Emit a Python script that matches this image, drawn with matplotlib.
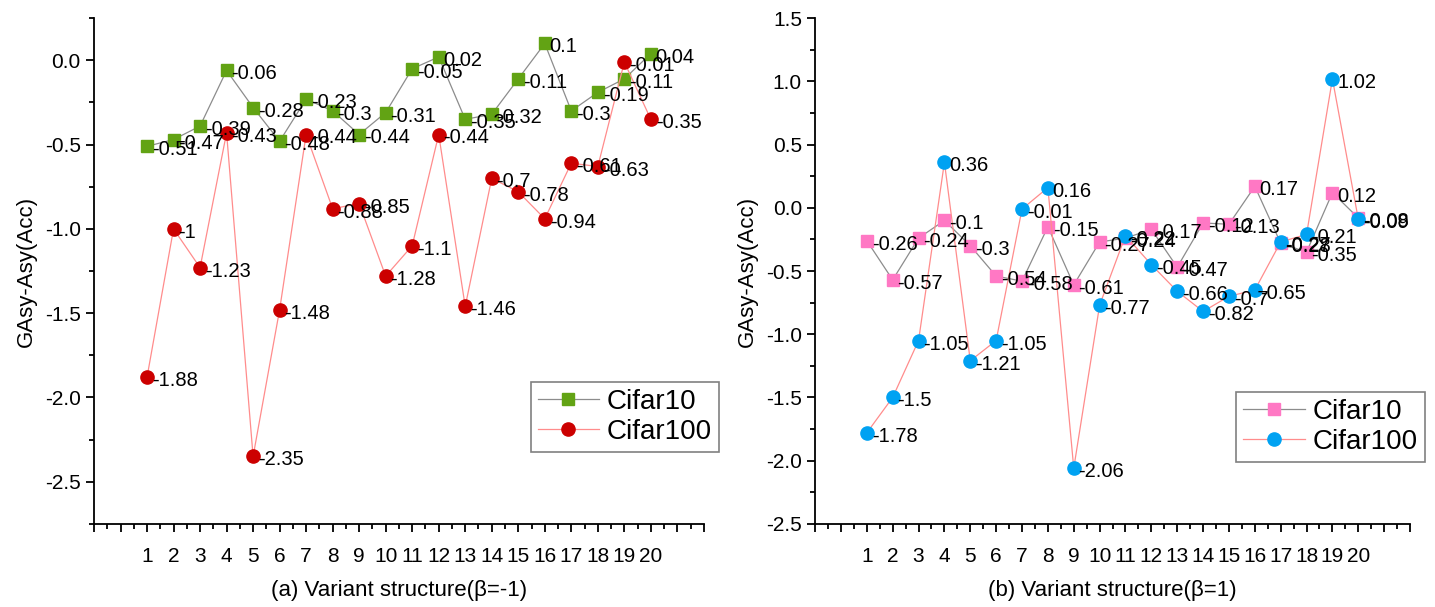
import numpy as np
import matplotlib
matplotlib.use("Agg")
import matplotlib.pyplot as plt
from matplotlib.ticker import MultipleLocator, FixedLocator, FormatStrFormatter

plt.rcParams['font.family'] = ['Liberation Sans', 'DejaVu Sans']

variants = list(range(1, 21))

# (a) beta = -1
a_cifar10 = [-0.51, -0.47, -0.39, -0.06, -0.28, -0.48, -0.23, -0.3, -0.44, -0.31,
             -0.05, 0.02, -0.35, -0.32, -0.11, 0.1, -0.3, -0.19, -0.11, 0.04]
a_cifar100 = [-1.88, -1, -1.23, -0.43, -2.35, -1.48, -0.44, -0.88, -0.85, -1.28,
              -1.1, -0.44, -1.46, -0.7, -0.78, -0.94, -0.61, -0.63, -0.01, -0.35]

# (b) beta = 1
b_cifar10 = [-0.26, -0.57, -0.24, -0.1, -0.3, -0.54, -0.58, -0.15, -0.61, -0.27,
             -0.24, -0.17, -0.47, -0.12, -0.13, 0.17, -0.28, -0.35, 0.12, -0.08]
b_cifar100 = [-1.78, -1.5, -1.05, 0.36, -1.21, -1.05, -0.01, 0.16, -2.06, -0.77,
              -0.22, -0.45, -0.66, -0.82, -0.7, -0.65, -0.27, -0.21, 1.02, -0.09]


def fmt(v):
    return f"{v:.2f}".rstrip('0').rstrip('.')


def draw_panel(ax, c10, c100, c10_color, c100_color, ylim, xlabel, leg_y):
    ax.plot(variants, c10, color='#8c8c8c', lw=0.9, marker='s', ms=8,
            mfc=c10_color, mec=c10_color, label='Cifar10', zorder=3)
    ax.plot(variants, c100, color='#ff8c8c', lw=0.9, marker='o', ms=9.5,
            mfc=c100_color, mec=c100_color, label='Cifar100', zorder=4)
    for series in (c10, c100):
        for x, y in zip(variants, series):
            ax.annotate(fmt(y), (x, y), xytext=(3.5, -2.5), textcoords='offset points',
                        ha='left', va='center', fontsize=14.5, zorder=5)

    ax.set_xlim(-1, 22)
    ax.set_ylim(*ylim)
    ax.xaxis.set_major_locator(FixedLocator(np.arange(-1, 23)))
    ax.set_xticklabels(['' if (t < 1 or t > 20) else str(t) for t in range(-1, 23)])
    ax.xaxis.set_minor_locator(MultipleLocator(0.5))
    ax.yaxis.set_major_locator(MultipleLocator(0.5))
    ax.yaxis.set_minor_locator(MultipleLocator(0.25))
    ax.yaxis.set_major_formatter(FormatStrFormatter('%.1f'))

    ax.spines['top'].set_visible(False)
    ax.spines['right'].set_visible(False)
    for sp in ('left', 'bottom'):
        ax.spines[sp].set_linewidth(1.3)
    ax.tick_params(axis='both', which='major', direction='out', length=6, width=1.3,
                   labelsize=15)
    ax.tick_params(axis='both', which='minor', direction='out', length=3.5, width=1.3)
    ax.tick_params(axis='x', which='major', pad=11)
    ax.set_ylabel('GAsy-Asy(Acc)', fontsize=16, labelpad=6)
    ax.set_xlabel(xlabel, fontsize=16, labelpad=10)

    leg = ax.legend(loc='lower right', bbox_to_anchor=(1.025, leg_y), fontsize=20,
                    fancybox=False, edgecolor='#808080', framealpha=1,
                    handlelength=2.2, handletextpad=0.3, borderpad=0.25,
                    labelspacing=0.15, borderaxespad=0)
    leg.get_frame().set_linewidth(1.2)


fig = plt.figure(figsize=(14.35, 6.07), dpi=100)
ax1 = fig.add_axes([0.0655, 0.137, 0.425, 0.833])
ax2 = fig.add_axes([0.568, 0.137, 0.4146, 0.833])

draw_panel(ax1, a_cifar10, a_cifar100, '#62a314', '#cc0000', (-2.75, 0.25),
           '(a) Variant structure(\u03b2=-1)', 0.142)
draw_panel(ax2, b_cifar10, b_cifar100, '#ff78c4', '#00a2f2', (-2.5, 1.5),
           '(b) Variant structure(\u03b2=1)', 0.122)

fig.savefig('out.png', dpi=100)
